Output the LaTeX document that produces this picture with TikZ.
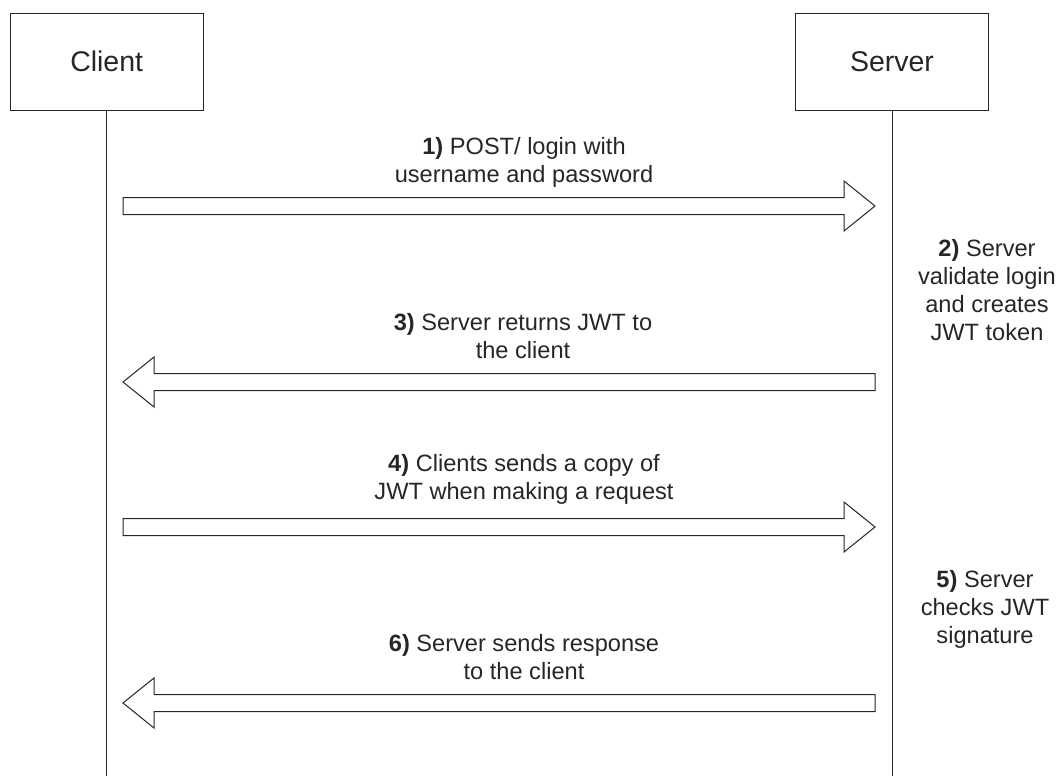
\documentclass[tikz,border=0pt]{standalone}
\usepackage{fontspec}
\setmainfont{Liberation Sans}
\usepackage{tikz}
\usetikzlibrary{calc}
\definecolor{ink}{HTML}{262626}

% block arrow from tail #1 to tip #2
\newcommand{\fatarrow}[2]{%
  \draw[fat] ($(#1)+(0,-8.5)$) -- ($(#2)!31pt!(#1)+(0,-8.5)$) -- ($(#2)!31pt!(#1)+(0,-25)$)
    -- (#2) -- ($(#2)!31pt!(#1)+(0,25)$) -- ($(#2)!31pt!(#1)+(0,8.5)$) -- ($(#1)+(0,8.5)$) -- cycle;}

\begin{document}
\begin{tikzpicture}[x=1pt,y=-1pt,
    fat/.style={draw=ink, line width=1pt, fill=white, line join=miter},
    life/.style={draw=ink, line width=1pt}]
  \useasboundingbox (0,0) rectangle (1059,776);

  \begin{scope}[every node/.style={rectangle,draw=ink,line width=1pt,
        minimum width=193pt,minimum height=97pt,text=ink,
        font=\fontsize{28.5}{34}\selectfont}]
    \node (C) at (106.7,61.7) {Client};
    \node (S) at (892,61.7) {Server};
  \end{scope}

  \coordinate (Cend) at (106.7,776);
  \coordinate (Send) at (892,776);
  \draw[life] (C) -- (Cend);
  \draw[life] (S) -- (Send);

  % arrow ends
  \coordinate (c1) at (123,206);  \coordinate (s1) at (875,206);
  \coordinate (c3) at (123,382);  \coordinate (s3) at (875,382);
  \coordinate (c4) at (123,527);  \coordinate (s4) at (875,527);
  \coordinate (c6) at (123,703);  \coordinate (s6) at (875,703);

  \fatarrow{c1}{s1}
  \fatarrow{s3}{c3}
  \fatarrow{c4}{s4}
  \fatarrow{s6}{c6}

  \begin{scope}[every node/.style={align=center,text=ink,inner sep=0pt,
        font=\fontsize{23.6}{28}\selectfont}]
    \node (m1) at (524,162) {\textbf{1)} POST/ login with\\username and password};
    \node (m3) at (523,336) {\textbf{3)} Server returns JWT to\\the client};
    \node (m4) at (524,479) {\textbf{4)} Clients sends a copy of\\JWT when making a request};
    \node (m6) at (524,657) {\textbf{6)} Server sends response\\to the client};
    \node (n2) at (987,290) {\textbf{2)} Server\\validate login\\and creates\\JWT token};
    \node (n5) at (985,609) {\textbf{5)} Server\\checks JWT\\signature};
  \end{scope}
\end{tikzpicture}
\end{document}
